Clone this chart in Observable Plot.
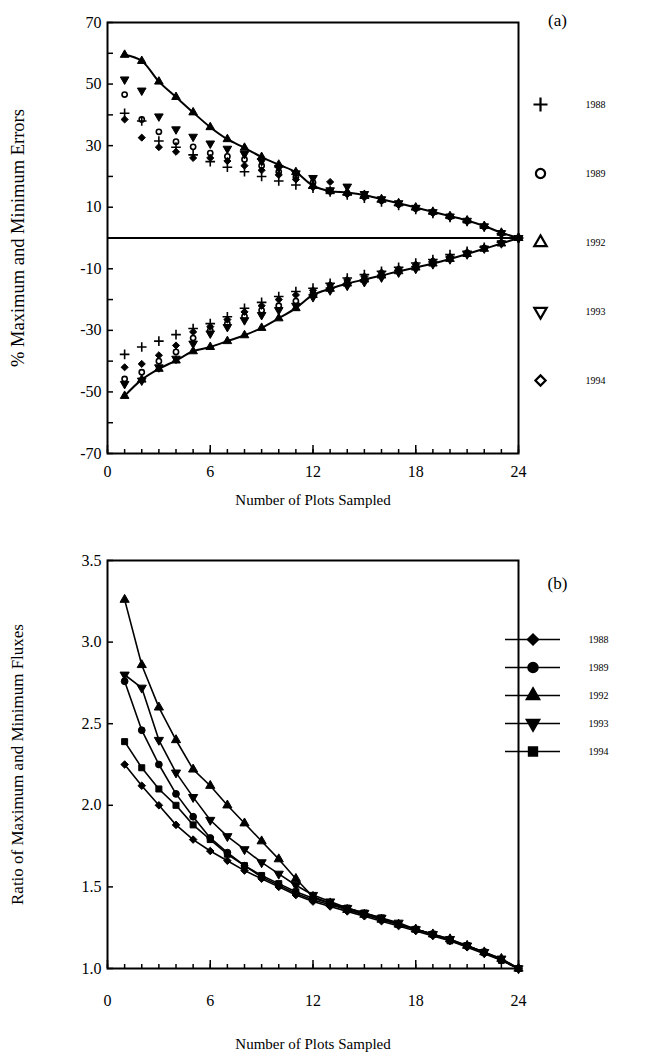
<!DOCTYPE html>
<html><head><meta charset="utf-8">
<script src="https://cdn.jsdelivr.net/npm/d3@7"></script>
<script src="https://cdn.jsdelivr.net/npm/@observablehq/plot@0.6"></script>
<style>
body{margin:0;background:#fff;}
#root{position:relative;width:648px;height:1064px;background:#fff;overflow:hidden;font-family:"Liberation Serif",serif;color:#000;}
#root > svg, #root > div {position:absolute;}
</style></head><body><div id="root"></div>
<script>
// ---------- data ----------
const nPlots = d3.range(1, 25);
const years = ["1988", "1989", "1992", "1993", "1994"];

// Panel (a): % maximum errors
const maxErr1988 = [40.5, 38.0, 31.5, 29.5, 27.0, 24.8, 23.0, 21.5, 20.0, 18.5, 17.2, 16.2, 15.0, 14.0, 12.9, 11.7, 10.6, 9.3, 8.0, 6.7, 5.4, 3.6, 1.4, 0];
const maxErr1989 = [46.6, 38.5, 34.5, 31.3, 29.6, 27.6, 26.5, 25.5, 23.5, 21.5, 19.8, 18.0, 15.2, 14.5, 13.6, 12.2, 11.0, 9.6, 8.3, 6.9, 5.5, 3.7, 1.5, 0];
const maxErr1992 = [59.5, 57.5, 50.8, 45.8, 40.8, 36.0, 32.1, 29.3, 26.3, 23.8, 21.4, 17.0, 15.2, 14.8, 14.0, 12.6, 11.3, 9.9, 8.5, 7.1, 5.7, 3.9, 1.7, 0];
const maxErr1993 = [51.5, 47.9, 39.5, 35.3, 32.9, 30.7, 29.0, 27.3, 25.0, 22.8, 21.0, 19.5, 15.5, 16.7, 14.3, 12.6, 11.3, 9.8, 8.4, 7.0, 5.6, 3.8, 1.6, 0];
const maxErr1994 = [38.5, 32.6, 29.5, 28.0, 26.0, 26.0, 25.0, 23.5, 22.0, 20.5, 19.0, 16.5, 18.2, 14.2, 13.2, 12.0, 10.8, 9.5, 8.2, 6.8, 5.5, 3.7, 1.5, 0];
// Panel (a): % minimum errors
const minErr1988 = [-37.8, -35.4, -33.5, -31.4, -29.4, -27.8, -25.6, -22.8, -20.9, -19.0, -17.4, -16.3, -14.7, -13.0, -11.9, -10.8, -9.5, -8.1, -7.0, -5.4, -4.3, -3.0, -1.4, 0];
const minErr1989 = [-45.8, -43.6, -40.0, -37.0, -32.5, -30.0, -27.8, -25.5, -23.5, -22.0, -20.5, -18.0, -16.3, -14.5, -13.4, -12.0, -10.5, -9.2, -7.8, -6.3, -4.9, -3.3, -1.6, 0];
const minErr1992 = [-51.3, -46.0, -42.5, -39.8, -36.8, -35.4, -33.5, -31.6, -29.2, -26.1, -22.8, -18.5, -16.5, -14.8, -13.5, -12.2, -10.8, -9.6, -8.3, -6.8, -5.2, -3.5, -1.8, 0];
const minErr1993 = [-47.4, -46.3, -42.0, -39.2, -34.3, -31.0, -28.9, -26.7, -25.0, -23.4, -22.0, -19.2, -17.0, -15.5, -14.3, -12.8, -11.2, -10.0, -8.5, -6.9, -5.3, -3.4, -1.7, 0];
const minErr1994 = [-42.0, -40.9, -38.1, -34.9, -30.5, -28.8, -26.5, -24.0, -22.0, -20.0, -18.5, -17.0, -15.2, -13.6, -12.5, -11.2, -10.0, -8.6, -7.4, -6.0, -4.6, -3.2, -1.5, 0];

// Panel (b): ratio of maximum and minimum fluxes
const ratio1988 = [2.25, 2.12, 2.00, 1.88, 1.79, 1.72, 1.66, 1.60, 1.55, 1.50, 1.45, 1.41, 1.38, 1.35, 1.32, 1.29, 1.26, 1.23, 1.20, 1.17, 1.13, 1.09, 1.05, 1.00];
const ratio1989 = [2.76, 2.46, 2.25, 2.07, 1.93, 1.80, 1.71, 1.63, 1.56, 1.51, 1.46, 1.42, 1.39, 1.36, 1.33, 1.30, 1.27, 1.24, 1.21, 1.17, 1.14, 1.10, 1.05, 1.00];
const ratio1992 = [3.26, 2.86, 2.60, 2.40, 2.22, 2.12, 2.00, 1.89, 1.78, 1.67, 1.55, 1.44, 1.40, 1.36, 1.33, 1.30, 1.27, 1.24, 1.21, 1.18, 1.14, 1.10, 1.06, 1.00];
const ratio1993 = [2.80, 2.72, 2.40, 2.20, 2.05, 1.91, 1.81, 1.73, 1.65, 1.58, 1.51, 1.45, 1.41, 1.37, 1.34, 1.31, 1.28, 1.24, 1.21, 1.18, 1.14, 1.10, 1.06, 1.00];
const ratio1994 = [2.39, 2.23, 2.10, 2.00, 1.88, 1.79, 1.70, 1.63, 1.57, 1.52, 1.47, 1.43, 1.40, 1.37, 1.34, 1.31, 1.27, 1.24, 1.21, 1.17, 1.14, 1.10, 1.05, 1.00];

// tick labels
const xMajorTicks = [0, 6, 12, 18, 24];
const xMinorTicks = d3.range(0, 25);
const yLabelTicksA = [70, 50, 30, 10, -10, -30, -50, -70];
const yMinorTicksA = [60, 40, 20, 0, -20, -40, -60];
const yTicksB = [1.0, 1.5, 2.0, 2.5, 3.0, 3.5];

// ---------- tables ----------
const maxErr = {"1988": maxErr1988, "1989": maxErr1989, "1992": maxErr1992, "1993": maxErr1993, "1994": maxErr1994};
const minErr = {"1988": minErr1988, "1989": minErr1989, "1992": minErr1992, "1993": minErr1993, "1994": minErr1994};
const ratio = {"1988": ratio1988, "1989": ratio1989, "1992": ratio1992, "1993": ratio1993, "1994": ratio1994};

const errRows = [];
for (const yr of years) {
  nPlots.forEach((n, i) => {
    errRows.push({year: yr, n, v: maxErr[yr][i], kind: "max"});
    errRows.push({year: yr, n, v: minErr[yr][i], kind: "min"});
  });
}
const ratioRows = [];
for (const yr of years) nPlots.forEach((n, i) => ratioRows.push({year: yr, n, v: ratio[yr][i]}));

// ---------- symbols ----------
const sqrt3 = Math.sqrt(3);
const triangleDown = {
  draw(c, size) {
    const y = -Math.sqrt(size / (sqrt3 * 3));
    c.moveTo(0, -y * 2);
    c.lineTo(-sqrt3 * y, y);
    c.lineTo(sqrt3 * y, y);
    c.closePath();
  }
};
const symbolsA = [d3.symbolPlus, d3.symbolCircle, d3.symbolTriangle, triangleDown, d3.symbolDiamond2];
const symbolsB = [d3.symbolDiamond2, d3.symbolCircle, d3.symbolTriangle, triangleDown, d3.symbolSquare];

const font = {fontFamily: "Liberation Serif, Times New Roman, serif", fontSize: "16px", background: "transparent", color: "#000", overflow: "visible"};
const hyphen = d => String(d);

// ---------- panel (a) ----------
const filledA = errRows.filter(d => d.year === "1992" || d.year === "1993" || d.year === "1994");
const A = Plot.plot({
  width: 648, height: 520,
  marginLeft: 107, marginRight: 130, marginTop: 22, marginBottom: 67,
  x: {domain: [0, 24]},
  y: {domain: [-70, 70]},
  symbol: {domain: years, range: symbolsA},
  style: font,
  marks: [
    Plot.frame({strokeWidth: 2}),
    Plot.ruleY([0], {strokeWidth: 2}),
    Plot.axisX({ticks: xMinorTicks, tickSize: -4, tickFormat: () => "", strokeWidth: 1.5, label: null}),
    Plot.axisX({ticks: xMajorTicks, tickSize: -8, tickPadding: 20, strokeWidth: 1.5, tickFormat: hyphen, fontSize: 16, label: null}),
    Plot.axisX({ticks: [], tickSize: 0, label: "Number of Plots Sampled", labelAnchor: "center", labelOffset: 51, labelArrow: "none", fontSize: 15}),
    Plot.axisY({ticks: yMinorTicksA, tickSize: -6, tickFormat: () => "", strokeWidth: 1.5, label: null}),
    Plot.axisY({ticks: yLabelTicksA, tickSize: -6, tickPadding: 12, strokeWidth: 1.5, tickFormat: hyphen, fontSize: 16, label: null}),
    Plot.axisY({ticks: [], tickSize: 0, label: "% Maximum and Minimum Errors", labelAnchor: "center", labelOffset: 97, labelArrow: "none", fontSize: 18.5}),
    Plot.line(errRows.filter(d => d.year === "1992"), {x: "n", y: "v", z: "kind", curve: "catmull-rom", strokeWidth: 2}),
    Plot.dot(filledA, {x: "n", y: "v", symbol: "year", r: 3.2, fill: "black", stroke: "black", strokeWidth: 1}),
    Plot.dot(errRows.filter(d => d.year === "1989"), {x: "n", y: "v", symbol: "year", r: 2.6, fill: "none", stroke: "black", strokeWidth: 1.6}),
    Plot.dot(errRows.filter(d => d.year === "1988"), {x: "n", y: "v", symbol: "year", r: 3.2, fill: "none", stroke: "black", strokeWidth: 1.6}),
    Plot.text(["(a)"], {frameAnchor: "top-right", dx: 39, dy: -9, fontSize: 17, textAnchor: "middle"})
  ]
});

// ---------- panel (b) ----------
const B = Plot.plot({
  width: 648, height: 524,
  marginLeft: 107, marginRight: 130, marginTop: 20, marginBottom: 96,
  x: {domain: [0, 24]},
  y: {domain: [1, 3.5]},
  symbol: {domain: years, range: symbolsB},
  style: font,
  marks: [
    Plot.frame({strokeWidth: 2}),
    Plot.axisX({ticks: xMinorTicks, tickSize: -4, tickFormat: () => "", strokeWidth: 1.5, label: null}),
    Plot.axisX({ticks: xMajorTicks, tickSize: -8, tickPadding: 34, strokeWidth: 1.5, tickFormat: hyphen, fontSize: 16, label: null}),
    Plot.axisX({ticks: [], tickSize: 0, label: "Number of Plots Sampled", labelAnchor: "center", labelOffset: 80, labelArrow: "none", fontSize: 15}),
    Plot.axisY({ticks: yTicksB, tickSize: -6, tickPadding: 12, strokeWidth: 1.5, tickFormat: d3.format(".1f"), fontSize: 16, label: null}),
    Plot.axisY({ticks: [], tickSize: 0, label: "Ratio of Maximum and Minimum Fluxes", labelAnchor: "center", labelOffset: 97, labelArrow: "none", fontSize: 17}),
    Plot.line(ratioRows, {x: "n", y: "v", z: "year", strokeWidth: 1.6}),
    Plot.dot(ratioRows, {x: "n", y: "v", symbol: "year", r: 3.4, fill: "black", stroke: "black", strokeWidth: 1}),
    Plot.text(["(b)"], {frameAnchor: "top-right", dx: 39, dy: 16, fontSize: 17, textAnchor: "middle"})
  ]
});

// ---------- legends ----------
const LA = Plot.plot({
  width: 128, height: 360, margin: 0, axis: null,
  y: {type: "point", domain: years, range: [42, 321], padding: 0},
  symbol: {domain: years, range: symbolsA},
  style: font,
  marks: [
    Plot.dot(years, {y: d => d, symbol: d => d, frameAnchor: "left", dx: 20, r: 4.6, fill: "none", stroke: "black", strokeWidth: 2.2}),
    Plot.text(years, {y: d => d, text: d => d, frameAnchor: "left", dx: 65, textAnchor: "start", fontSize: 10})
  ]
});
const LB = Plot.plot({
  width: 148, height: 180, marginLeft: 5, marginRight: 88, marginTop: 0, marginBottom: 0, axis: null,
  y: {type: "point", domain: years, range: [37, 152], padding: 0},
  symbol: {domain: years, range: symbolsB},
  style: font,
  marks: [
    Plot.ruleY(years, {y: d => d, strokeWidth: 1.6}),
    Plot.dot(years, {y: d => d, symbol: d => d, frameAnchor: "middle", r: 5, fill: "black", stroke: "black"}),
    Plot.text(years, {y: d => d, text: d => d, frameAnchor: "right", dx: 28, textAnchor: "start", fontSize: 10})
  ]
});

const root = document.getElementById("root");
function place(el, left, top) { el.style.left = left + "px"; el.style.top = top + "px"; el.style.position = "absolute"; root.appendChild(el); }
place(A, 0, 0);
place(B, 0, 540);
place(LA, 520, 60);
place(LB, 500, 600);
</script></body></html>
